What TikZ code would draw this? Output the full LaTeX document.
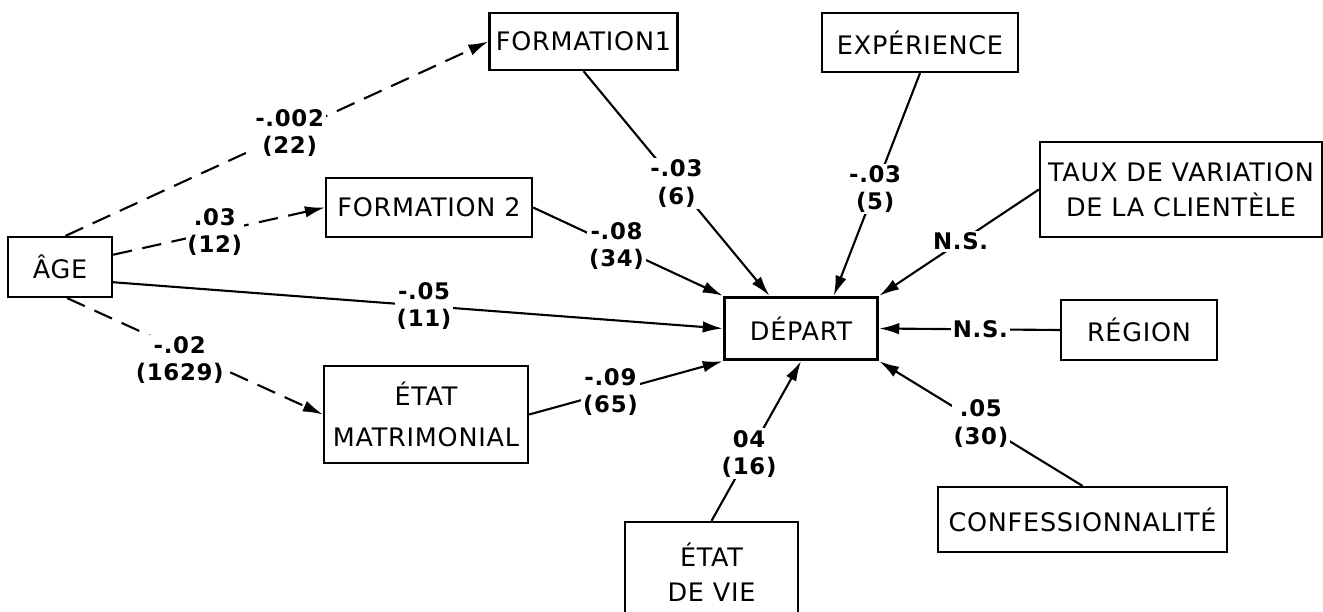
\documentclass[tikz,border=0pt]{standalone}
\usepackage{fontspec}
\setmainfont{DejaVu Sans}[LetterSpace=3]
\usetikzlibrary{arrows.meta}

\begin{document}
\begin{tikzpicture}[x=0.02cm, y=-0.02cm,
    box/.style={draw, line width=1.3pt, inner sep=2pt, align=center,
        font=\fontsize{14.5}{20}\selectfont},
    lab/.style={fill=white, inner sep=1pt, align=center,
        font=\bfseries\fontsize{13}{15.5}\selectfont},
    link/.style={line width=1.2pt, -{Latex[length=4mm,width=2.3mm]}},
    dashlink/.style={link, dash pattern=on 11pt off 6pt}]

    \useasboundingbox (0,0) rectangle (1323,612);
    \clip (0,0) rectangle (1323,612);

    % boxes
    \node [box, minimum width=2.08cm, minimum height=1.2cm] (age) at (60,267) {ÂGE};
    \node [box, minimum width=3.76cm, minimum height=1.14cm] (form1) at (583.5,41.5) {FORMATION1};
    \node [box, minimum width=3.92cm, minimum height=1.18cm] (exper) at (920,42.5) {EXPÉRIENCE};
    \node [box, minimum width=4.12cm, minimum height=1.18cm] (form2) at (429,207.5) {FORMATION 2};
    \node [box, minimum width=4.08cm, minimum height=1.94cm,
        font=\fontsize{14.5}{23}\selectfont] (etatmat) at (426,414.5) {ÉTAT\\MATRIMONIAL};
    \node [box, line width=2pt, minimum width=3.06cm, minimum height=1.24cm] (depart) at (801,328.5) {DÉPART};
    \node [box, minimum width=5.64cm, minimum height=1.9cm] (taux) at (1181,189.5) {TAUX DE VARIATION\\DE LA CLIENTÈLE};
    \node [box, minimum width=3.12cm, minimum height=1.2cm] (region) at (1139,330) {RÉGION};
    \node [box, minimum width=5.78cm, minimum height=1.3cm] (confes) at (1082.5,519.5) {CONFESSIONNALITÉ};
    \node [box, minimum width=3.46cm, minimum height=2cm] (etatvie) at (711.5,572) {ÉTAT\\DE VIE};

    % paths from age
    \draw [dashlink] (age.80) -- (form1.west) node [lab, pos=.53] {-.002\\(22)};
    \draw [dashlink] (age.13) -- (form2.west) node [lab, pos=.48] {.03\\(12)};
    \draw [link] (age.-16) -- (depart.west) node [lab, pos=.51] {-.05\\(11)};
    \draw [dashlink] (age.-77) -- (etatmat.west) node [lab, pos=.44, yshift=-6pt] {-.02\\(1629)};

    % paths into depart
    \draw [link] (form1.south) -- (depart.134) node [lab, pos=.5] {-.03\\(6)};
    \draw [link] (exper.south) -- (depart.45) node [lab, pos=.52] {-.03\\(5)};
    \draw [link] (form2.east) -- (depart.north west) node [lab, pos=.44] {-.08\\(34)};
    \draw [link] (taux.west) -- (depart.north east) node [lab, pos=.49] {N.S.};
    \draw [link] (region.west) -- (depart.east) node [lab, pos=.44] {N.S.};
    \draw [link] (confes.north) -- (depart.south east) node [lab, pos=.5] {.05\\(30)};
    \draw [link] (etatvie.north) -- (depart.south) node [lab, pos=.42] {04\\(16)};
    \draw [link] (etatmat.east) -- (depart.south west) node [lab, pos=.42] {-.09\\(65)};

\end{tikzpicture}
\end{document}
